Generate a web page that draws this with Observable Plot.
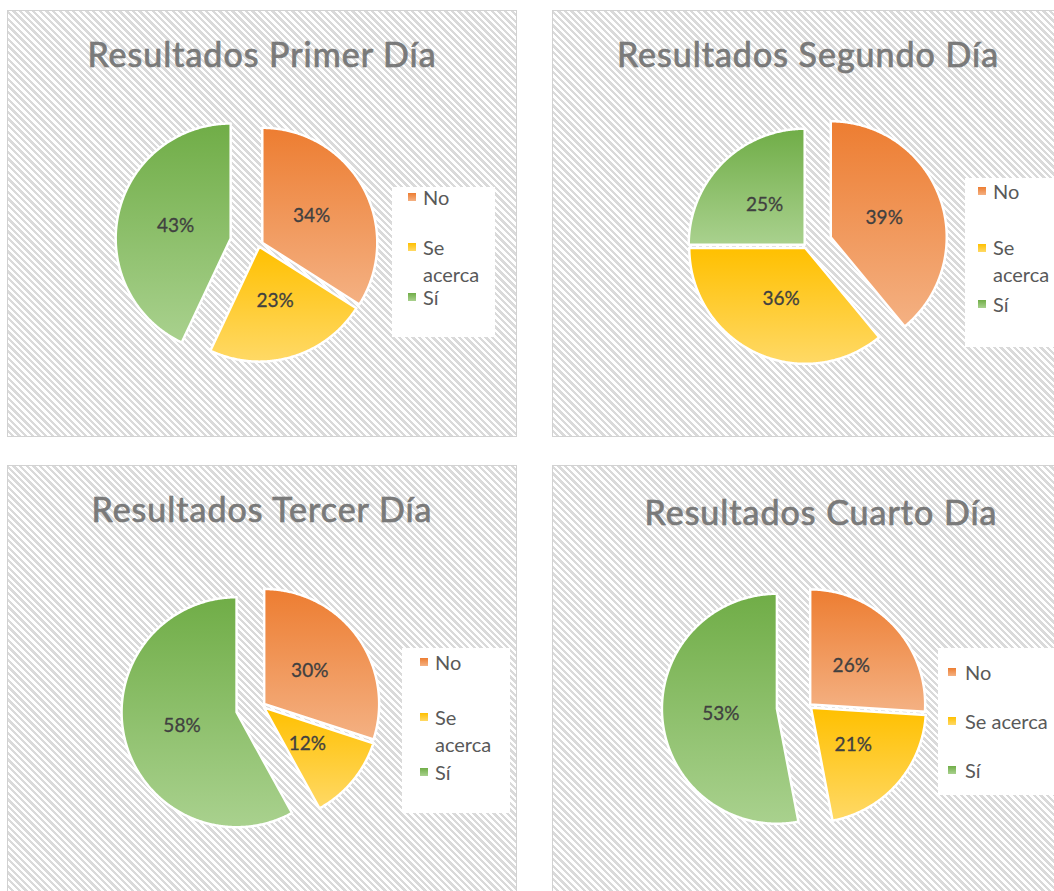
<!DOCTYPE html>
<html><head><meta charset="utf-8">
<script src="https://cdn.jsdelivr.net/npm/d3@7"></script>
<script src="https://cdn.jsdelivr.net/npm/@observablehq/plot@0.6"></script>
<style>
body{margin:0;background:#fff;width:1054px;height:891px;overflow:hidden;position:relative;font-family:Lato,"Open Sans",sans-serif;}
.panel{position:absolute;border:1px solid #d2d2d2;box-sizing:border-box;background:repeating-linear-gradient(45deg,#ffffff 0,#ffffff 2.3px,#dadada 2.3px,#dadada 4.7px);}
.title{position:absolute;transform:translateX(-50%);white-space:nowrap;color:#7a7a7a;font-size:34px;line-height:34px;letter-spacing:1px;-webkit-text-stroke:0.6px #7a7a7a;text-shadow:0 0 1px rgba(0,0,0,0.25);}
.legend{position:absolute;background:#fff;}
.entry{position:absolute;font-size:20px;color:#595959;line-height:27px;}
.sw{position:absolute;width:8px;height:8px;}
.pie{position:absolute;}
</style></head><body>
<svg width="0" height="0" style="position:absolute"><defs>
<linearGradient id="g0" x1="0" y1="0" x2="0" y2="1"><stop offset="0" stop-color="#ED7D31"/><stop offset="1" stop-color="#F4B183"/></linearGradient>
<linearGradient id="g1" x1="0" y1="0" x2="0" y2="1"><stop offset="0" stop-color="#FFC000"/><stop offset="1" stop-color="#FFD966"/></linearGradient>
<linearGradient id="g2" x1="0" y1="0" x2="0" y2="1"><stop offset="0" stop-color="#70AD47"/><stop offset="1" stop-color="#A9D18E"/></linearGradient>
</defs></svg>
<script>
// ---- data ----
const categories = ["No", "Se acerca", "Sí"];
const titles = ["Resultados Primer Día", "Resultados Segundo Día", "Resultados Tercer Día", "Resultados Cuarto Día"];
const day1 = [34, 23, 43];
const day2 = [39, 36, 25];
const day3 = [30, 12, 58];
const day4 = [26, 21, 53];
const seriesByDay = [day1, day2, day3, day4];

// ---- styling / layout ----
const topColors = ["#ED7D31", "#FFC000", "#70AD47"];
const bottomColors = ["#F4B183", "#FFD966", "#A9D18E"];
const panels = [
  {left: 7, top: 10, w: 510, h: 427, tx: 262, tb: 67, cx: 258, cy: 244, r: 115, explode: [0.035, 0.017, 0.25],
   lg: {left: 392, top: 187, w: 103, h: 150, y0: 197, dy: 50, sx: 408, tx: 423, tw: 70}},
  {left: 552, top: 10, w: 512, h: 427, tx: 808, tb: 67, cx: 806, cy: 246, r: 116, explode: [0.226, 0.017, 0.017],
   lg: {left: 965, top: 178, w: 100, h: 169, y0: 191, dy: 56.5, sx: 978, tx: 993, tw: 62}},
  {left: 7, top: 465, w: 510, h: 440, tx: 262, tb: 522, cx: 261, cy: 705, r: 115, explode: [0.026, 0.026, 0.226],
   lg: {left: 402, top: 648, w: 108, h: 165, y0: 662, dy: 55, sx: 420, tx: 435, tw: 72}},
  {left: 552, top: 465, w: 512, h: 440, tx: 821, tb: 525, cx: 808, cy: 705, r: 115, explode: [0.017, 0.026, 0.278],
   lg: {left: 938, top: 648, w: 130, h: 147, y0: 672, dy: 49, sx: 948, tx: 965, tw: 110}}
];
const D = 1.35;
const labelR = 0.49;

function el(tag, cls, style) {
  const e = document.createElement(tag);
  if (cls) e.className = cls;
  Object.assign(e.style, style || {});
  document.body.appendChild(e);
  return e;
}

panels.forEach((p, k) => {
  const values = seriesByDay[k];
  el("div", "panel", {left: p.left + "px", top: p.top + "px", width: p.w + "px", height: p.h + "px"});
  const t = el("div", "title", {left: p.tx + "px", top: (p.tb - 0.887 * 34) + "px"});
  t.textContent = titles[k];

  // pie geometry from data
  const arcs = d3.pie().sort(null).value(d => d)(values);
  const marks = [];
  const labels = [];
  arcs.forEach((a, i) => {
    const mid = (a.startAngle + a.endAngle) / 2;
    const e = p.explode[i];
    const ox = e * Math.sin(mid), oy = e * Math.cos(mid);
    const pts = [{x: ox, y: oy}];
    const n = Math.max(2, Math.ceil((a.endAngle - a.startAngle) / (Math.PI / 360)));
    for (let j = 0; j <= n; j++) {
      const th = a.startAngle + (a.endAngle - a.startAngle) * j / n;
      pts.push({x: ox + Math.sin(th), y: oy + Math.cos(th)});
    }
    marks.push(Plot.line(pts, {x: "x", y: "y", fill: `url(#g${i})`, stroke: "white", strokeWidth: 2.5, curve: "linear-closed", strokeLinejoin: "round"}));
    labels.push({x: ox + labelR * Math.sin(mid), y: oy + labelR * Math.cos(mid), text: values[i] + "%"});
  });
  marks.push(Plot.text(labels, {x: "x", y: "y", text: "text", fill: "#404040", stroke: "#404040", strokeWidth: 0.3, fontSize: 19, fontFamily: "Lato, 'Open Sans', sans-serif"}));
  const S = 2 * D * p.r;
  const chart = Plot.plot({
    width: S, height: S, margin: 0,
    x: {domain: [-D, D], axis: null},
    y: {domain: [-D, D], axis: null},
    style: {background: "transparent", overflow: "visible"},
    marks
  });
  const holder = el("div", "pie", {left: (p.cx - S / 2) + "px", top: (p.cy - S / 2) + "px", width: S + "px", height: S + "px"});
  holder.appendChild(chart);

  // legend
  const lg = p.lg;
  el("div", "legend", {left: lg.left + "px", top: lg.top + "px", width: lg.w + "px", height: lg.h + "px"});
  categories.forEach((c, i) => {
    const cy = lg.y0 + i * lg.dy;
    el("div", "sw", {left: lg.sx + "px", top: (cy - 4) + "px", background: `linear-gradient(${topColors[i]}, ${bottomColors[i]})`});
    const tx = el("div", "entry", {left: lg.tx + "px", top: (cy - 13.5) + "px", width: lg.tw + "px"});
    tx.textContent = c;
  });
});
</script>
</body></html>
